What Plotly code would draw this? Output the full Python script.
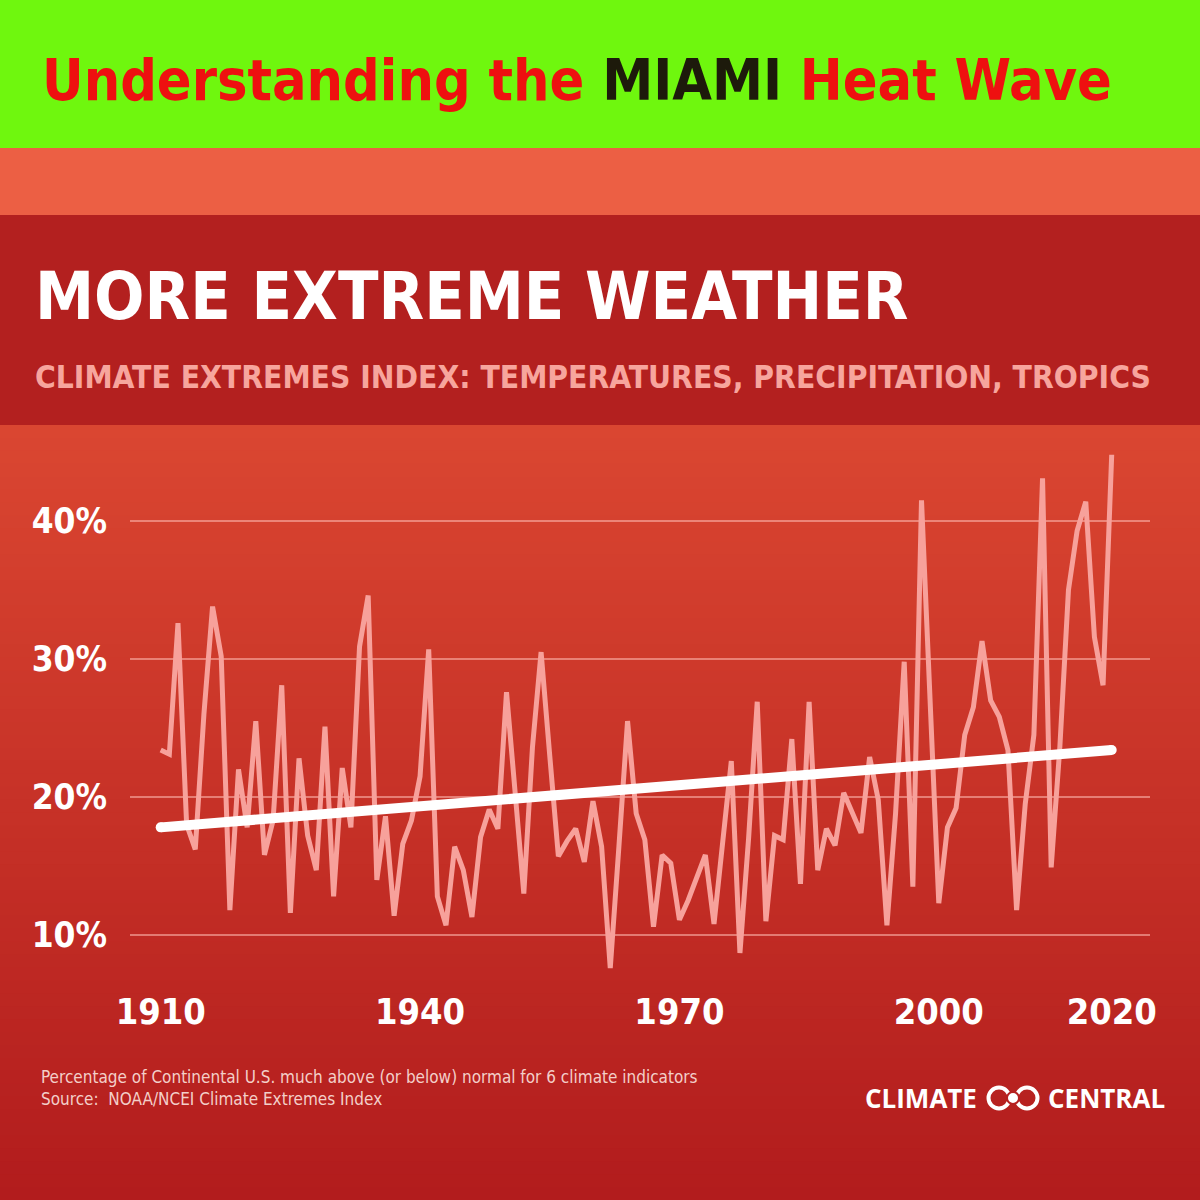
import plotly.graph_objects as go

# ---------------- data ----------------
years = list(range(1910, 2021))
cei_values = [
    23.4, 23.1, 32.6, 18.0, 16.2, 26.0, 33.8, 30.2, 11.8, 22.0,
    17.8, 25.5, 15.8, 18.3, 28.1, 11.6, 22.8, 17.2, 14.7, 25.1,
    12.8, 22.1, 17.8, 30.9, 34.6, 14.0, 18.6, 11.4, 16.6, 18.3,
    21.5, 30.7, 12.8, 10.7, 16.4, 14.7, 11.3, 17.1, 19.1, 17.7,
    27.6, 20.5, 13.0, 23.6, 30.5, 23.0, 15.7, 16.8, 17.7, 15.3,
    19.7, 16.4, 7.6, 16.4, 25.5, 18.8, 16.9, 10.6, 15.8, 15.2,
    11.1, 12.5, 14.2, 15.8, 10.8, 16.4, 22.6, 8.7, 17.0, 26.9,
    11.0, 17.2, 16.9, 24.2, 13.7, 26.9, 14.7, 17.7, 16.5, 20.3,
    18.8, 17.4, 22.9, 19.8, 10.7, 18.8, 29.8, 13.5, 41.5, 27.0,
    12.3, 17.8, 19.2, 24.5, 26.5, 31.3, 27.0, 25.8, 23.4, 11.8,
    19.5, 24.5, 43.1, 14.9, 23.6, 35.0, 39.3, 41.4, 31.6, 28.1,
    44.8,
]
trend_years = [1910, 2020]
trend_values = [17.8, 23.4]

y_ticks = [10, 20, 30, 40]
y_tick_labels = ["10%", "20%", "30%", "40%"]
x_ticks = [1910, 1940, 1970, 2000, 2020]
x_tick_labels = ["1910", "1940", "1970", "2000", "2020"]

title_main = "Understanding the <span style='color:#1d1a0b'>MIAMI</span> Heat Wave"
headline = "MORE EXTREME WEATHER"
subtitle = "CLIMATE EXTREMES INDEX: TEMPERATURES, PRECIPITATION, TROPICS"
note1 = "Percentage of Continental U.S. much above (or below) normal for 6 climate indicators"
note2 = "Source:  NOAA/NCEI Climate Extremes Index"

# ---------------- helpers ----------------
W = H = 1200
def px(x):
    return x / W
def py(y):
    return 1 - y / H

COND = "Liberation Sans Narrow, DejaVu Sans Condensed, Arial Narrow, sans-serif"
LOGO = "Open Sans, Lato, sans-serif"

shapes = []
# chart background gradient (stripes)
top_c = (0xDA, 0x46, 0x31)
bot_c = (0xB2, 0x1C, 0x1D)
n = 60
y0, y1 = 425, 1200
for i in range(n):
    t = i / (n - 1)
    c = tuple(round(top_c[k] + (bot_c[k] - top_c[k]) * t) for k in range(3))
    ya = y0 + (y1 - y0) * i / n
    yb = y0 + (y1 - y0) * (i + 1) / n + 1
    shapes.append(dict(type="rect", xref="paper", yref="paper", layer="below",
                       x0=0, x1=1, y0=py(yb), y1=py(ya), line=dict(width=0),
                       fillcolor="rgb(%d,%d,%d)" % c))
# bands
shapes.append(dict(type="rect", xref="paper", yref="paper", layer="below",
                   x0=0, x1=1, y0=py(148), y1=1, line=dict(width=0), fillcolor="#6ff70e"))
shapes.append(dict(type="rect", xref="paper", yref="paper", layer="below",
                   x0=0, x1=1, y0=py(215), y1=py(148), line=dict(width=0), fillcolor="#ec5f44"))
shapes.append(dict(type="rect", xref="paper", yref="paper", layer="below",
                   x0=0, x1=1, y0=py(425), y1=py(215), line=dict(width=0), fillcolor="#b3201f"))
# logo rings
for cx in (999, 1027):
    r = 10.5
    shapes.append(dict(type="circle", xref="paper", yref="paper",
                       x0=px(cx - r), x1=px(cx + r), y0=py(1098 + r), y1=py(1098 - r),
                       line=dict(color="white", width=4)))
shapes.append(dict(type="circle", xref="paper", yref="paper",
                   x0=px(1007), x1=px(1019), y0=py(1104), y1=py(1092),
                   fillcolor="white", line=dict(color="#b52020", width=2)))

annotations = [
    dict(text=title_main, x=px(40), y=py(80), xanchor="left", yanchor="middle",
         font=dict(family=COND, size=57, color="#ee1010", weight="bold")),
    dict(text=headline, x=px(33), y=py(296), xanchor="left", yanchor="middle",
         font=dict(family=COND, size=66, color="white", weight="bold")),
    dict(text=subtitle, x=px(33), y=py(377), xanchor="left", yanchor="middle",
         font=dict(family=COND, size=31.5, color="#f7a59d", weight="bold")),
    dict(text=note1, x=px(39), y=py(1077), xanchor="left", yanchor="middle",
         font=dict(family=COND, size=17, color="#f3cfc9")),
    dict(text=note2, x=px(39), y=py(1099), xanchor="left", yanchor="middle",
         font=dict(family=COND, size=17, color="#f3cfc9")),
    dict(text="CLIMATE", x=px(979), y=py(1098), xanchor="right", yanchor="middle",
         font=dict(family=LOGO, size=26, color="white", weight="bold")),
    dict(text="CENTRAL", x=px(1046), y=py(1098), xanchor="left", yanchor="middle",
         font=dict(family=LOGO, size=26, color="white", weight="bold")),
]
for a in annotations:
    a.update(xref="paper", yref="paper", showarrow=False)

fig = go.Figure()
fig.add_trace(go.Scatter(x=years, y=cei_values, mode="lines",
                         line=dict(color="#f7a19b", width=5), hoverinfo="skip"))
fig.add_trace(go.Scatter(x=trend_years, y=trend_values, mode="lines+markers",
                         line=dict(color="white", width=10),
                         marker=dict(color="white", size=10), hoverinfo="skip"))

fig.update_layout(
    width=W, height=H, margin=dict(l=0, r=0, t=0, b=0, autoexpand=False),
    paper_bgcolor="#b3201f", plot_bgcolor="rgba(0,0,0,0)",
    showlegend=False, shapes=shapes, annotations=annotations,
    xaxis=dict(domain=[px(130), px(1150)], range=[1906.45, 2024.43],
               tickvals=x_ticks, ticktext=x_tick_labels, automargin=False,
               showgrid=False, zeroline=False, showline=False,
               ticks="", ticklabelstandoff=2,
               tickfont=dict(family=COND, size=36, color="white", weight="bold")),
    yaxis=dict(domain=[py(985), py(440)], range=[6.377, 45.87],
               tickvals=y_ticks, ticktext=y_tick_labels, automargin=False, showgrid=True,
               gridcolor="rgba(255,190,180,0.55)", gridwidth=1.5,
               zeroline=False, showline=False, ticks="", ticklabelstandoff=22,
               tickfont=dict(family=COND, size=35, color="white", weight="bold")),
)

fig.write_html("out.html", config={"displayModeBar": False},
               post_script="document.body.style.margin='0';document.body.style.overflow='hidden';")
